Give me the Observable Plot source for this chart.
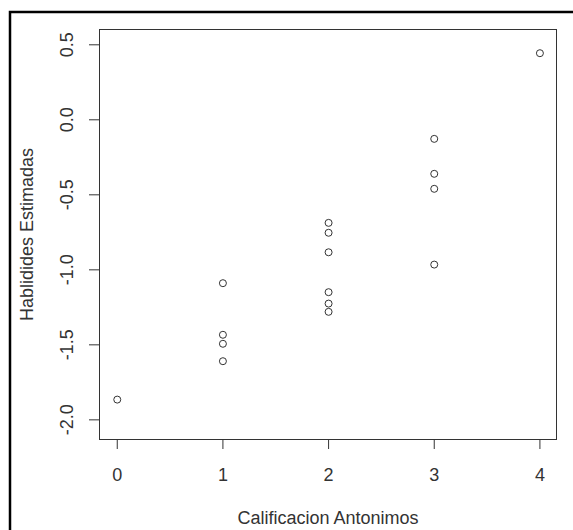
<!DOCTYPE html>
<html>
<head>
<meta charset="utf-8">
<script src="https://cdn.jsdelivr.net/npm/d3@7"></script>
<script src="https://cdn.jsdelivr.net/npm/@observablehq/plot@0.6"></script>
<style>
  html, body { margin: 0; padding: 0; background: #fff; }
  #chart svg { display: block; }
</style>
</head>
<body>
<div id="chart"></div>
<script>
const calificacion = [0, 1, 1, 1, 1, 2, 2, 2, 2, 2, 2, 3, 3, 3, 3, 4];
const habilidad = [-1.865, -1.089, -1.433, -1.493, -1.609, -0.687, -0.753, -0.883, -1.149, -1.225, -1.28, -0.127, -0.36, -0.46, -0.965, 0.444];
const xTicks = [0, 1, 2, 3, 4];
const yTicks = [0.5, 0.0, -0.5, -1.0, -1.5, -2.0];
const xLabel = "Calificacion Antonimos";
const yLabel = "Hablidides Estimadas";

const data = calificacion.map((c, i) => ({c, h: habilidad[i]}));
const ink = "#333";
const txt = "#333";
const fs = 18;
const font = "'Liberation Sans', Arial, sans-serif";

const chart = Plot.plot({
  width: 573,
  height: 530,
  marginLeft: 99,
  marginTop: 29,
  marginRight: 17,
  marginBottom: 91,
  style: {fontFamily: font, fontSize: fs + "px", color: ink, background: "#fff"},
  x: {domain: [-0.168, 4.157]},
  y: {domain: [-2.131, 0.602]},
  marks: [
    Plot.frame({stroke: ink, strokeWidth: 1}),
    Plot.axisX({ticks: xTicks, tickSize: 10, tickFormat: () => "", label: null, stroke: ink}),
    Plot.axisY({ticks: yTicks, tickSize: 10, tickFormat: () => "", label: null, stroke: ink}),
    Plot.text(xTicks, {x: d => d, text: d => String(d), frameAnchor: "bottom", dy: 36, lineAnchor: "middle", textAnchor: "middle", fill: txt, fontSize: fs}),
    Plot.text(yTicks, {y: d => d, text: d => d.toFixed(1), frameAnchor: "left", dx: -32, rotate: -90, textAnchor: "middle", lineAnchor: "middle", fill: txt, fontSize: fs}),
    Plot.text([xLabel], {text: d => d, frameAnchor: "bottom", dy: 79, lineAnchor: "middle", textAnchor: "middle", fill: txt, fontSize: fs}),
    Plot.text([yLabel], {text: d => d, frameAnchor: "left", dx: -72, rotate: -90, textAnchor: "middle", lineAnchor: "middle", fill: txt, fontSize: fs}),
    Plot.dot(data, {x: "c", y: "h", r: 3.5, stroke: ink, strokeWidth: 1, fill: "none"})
  ]
});

d3.select(chart).append("rect")
  .attr("x", 10).attr("y", 12)
  .attr("width", 700).attr("height", 700)
  .attr("fill", "none").attr("stroke", "#000").attr("stroke-width", 2.5);

document.getElementById("chart").appendChild(chart);
</script>
</body>
</html>
